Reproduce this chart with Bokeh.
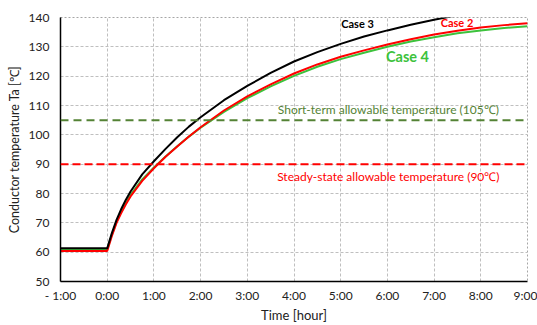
from bokeh.plotting import figure
from bokeh.models import FixedTicker, Span, Label
from bokeh.embed import file_html
from bokeh.resources import INLINE

# time in hours
time_h = [-1, 0, 0.1, 0.2, 0.3, 0.4, 0.5, 0.75, 1, 1.25, 1.5, 1.75, 2, 2.5, 3, 3.5,
          4, 4.5, 5, 5.5, 6, 6.5, 7, 7.5, 8, 8.5, 9]
case3 = [61.3, 61.3, 66.5, 71, 74.7, 77.9, 80.7, 86.5, 91, 95.2, 99.2, 102.8, 106, 111.8, 116.7, 121.1,
         125, 128.2, 131, 133.5, 135.6, 137.5, 139.2, 140.8, 142.2, 143.5, 144.7]
case2 = [60.4, 60.4, 65.5, 70, 73.3, 76.3, 79, 84.3, 88.6, 92.5, 96, 99.4, 102.6, 108.3, 113.1, 117.2,
         120.9, 124, 126.6, 128.8, 130.8, 132.6, 134.2, 135.5, 136.6, 137.4, 138]
case4 = [60.8, 60.8, 66, 70.4, 73.8, 76.8, 79.5, 84.8, 88.9, 92.6, 96.1, 99.4, 102.4, 107.8, 112.5, 116.5,
         120.1, 123.2, 125.8, 128, 130, 131.8, 133.3, 134.6, 135.6, 136.4, 137]

x_ticks = [-1, 0, 1, 2, 3, 4, 5, 6, 7, 8, 9]
x_tick_labels = ["- 1:00", "0:00", "1:00", "2:00", "3:00", "4:00", "5:00", "6:00", "7:00", "8:00", "9:00"]
y_ticks = [50, 60, 70, 80, 90, 100, 110, 120, 130, 140]

short_term_limit = 105
steady_limit = 90

FONT = "Lato"

p = figure(width=537, height=325, x_range=(-1, 9), y_range=(50, 140),
           output_backend="svg", toolbar_location=None,
           min_border_left=60, min_border_right=10, min_border_top=17, min_border_bottom=41)

p.outline_line_color = "#A6A6A6"
p.outline_line_dash = "2 2"

for ax in (p.xaxis, p.yaxis):
    ax.axis_line_color = "black"
    ax.axis_line_width = 1.5
    ax.major_tick_line_color = None
    ax.minor_tick_line_color = None
    ax.major_tick_out = 0
    ax.major_tick_in = 0
    ax.major_label_text_font = FONT
    ax.major_label_text_font_size = "12px"
    ax.major_label_text_color = "#222222"
    ax.axis_label_text_font = FONT
    ax.axis_label_text_font_size = "13px"
    ax.axis_label_text_font_style = "normal"
    ax.axis_label_text_color = "#222222"

p.yaxis.axis_label_text_font_size = "12.5px"
p.xaxis.ticker = FixedTicker(ticks=x_ticks)
p.xaxis.major_label_overrides = {t: l for t, l in zip(x_ticks, x_tick_labels)}
p.yaxis.ticker = FixedTicker(ticks=y_ticks)
p.xaxis.axis_label = "Time [hour]"
p.yaxis.axis_label = "Conductor temperature Ta [℃]"
p.xaxis.major_label_standoff = 6
p.yaxis.major_label_standoff = 11
p.xaxis.axis_label_standoff = 1
p.yaxis.axis_label_standoff = 4

for g in (p.xgrid, p.ygrid):
    g.grid_line_color = "#BFBFBF"
    g.grid_line_dash = "3 2"
    g.grid_line_width = 1

p.add_layout(Span(location=short_term_limit, dimension="width", line_color="#548235",
                  line_dash="8 5", line_width=2))
p.add_layout(Span(location=steady_limit, dimension="width", line_color="#FF0000",
                  line_dash="8 4", line_width=2))

p.line(time_h, case4, color="#3CC23C", line_width=2)
p.line(time_h, case2, color="#FF0000", line_width=2)
p.line(time_h, case3, color="black", line_width=2)

p.add_layout(Label(x=6.02, y=106.2, text="Short-term allowable temperature (105℃)",
                   text_font=FONT, text_font_size="12px", text_color="#548235",
                   text_align="center", text_baseline="bottom"))
p.add_layout(Label(x=6.02, y=88.3, text="Steady-state allowable temperature (90℃)",
                   text_font=FONT, text_font_size="12px", text_color="#FF0000",
                   text_align="center", text_baseline="top"))
p.add_layout(Label(x=5.36, y=137.9, text="Case 3", text_font=FONT, text_font_size="11px",
                   text_font_style="bold", text_color="black",
                   text_align="center", text_baseline="middle"))
p.add_layout(Label(x=7.49, y=138.3, text="Case 2", text_font=FONT, text_font_size="11px",
                   text_font_style="bold", text_color="#FF0000",
                   text_align="center", text_baseline="middle"))
p.add_layout(Label(x=6.43, y=126.8, text="Case 4", text_font=FONT, text_font_size="14.5px",
                   text_font_style="bold", text_color="#3CC23C",
                   text_align="center", text_baseline="middle"))

open("out.html", "w").write(file_html(p, INLINE))
